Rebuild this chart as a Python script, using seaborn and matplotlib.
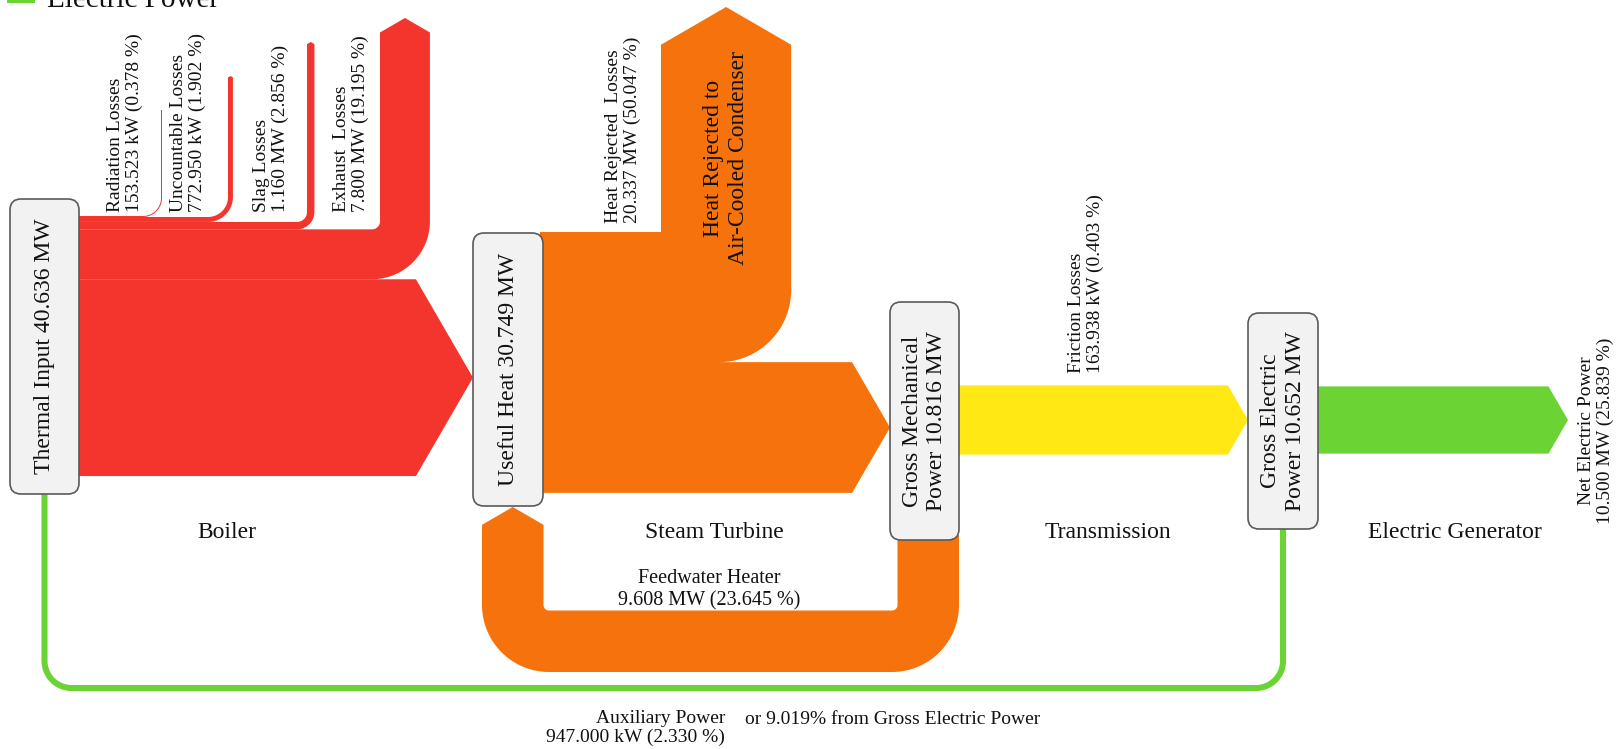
import numpy as np
import matplotlib.pyplot as plt
import matplotlib.patches as mpatches
import seaborn as sns

# ---- data (MW) ----
thermal_input = 40.636
useful_heat = 30.749
loss_names = ["Radiation Losses", "Uncountable Losses", "Slag Losses", "Exhaust  Losses"]
loss_values = [0.153523, 0.772950, 1.160, 7.800]
loss_texts = ["153.523 kW (0.378 %)", "772.950 kW (1.902 %)", "1.160 MW (2.856 %)", "7.800 MW (19.195 %)"]
heat_rejected = 20.337
heat_rejected_text = "20.337 MW (50.047 %)"
gross_mechanical = 10.816
feedwater = 9.608
feedwater_text = "9.608 MW (23.645 %)"
friction = 0.163938
friction_text = "163.938 kW (0.403 %)"
gross_electric = 10.652
auxiliary = 0.947
auxiliary_text = "947.000 kW (2.330 %)"
auxiliary_share = 9.019
net_electric = 10.500
net_electric_text = "10.500 MW (25.839 %)"
stages = ["Boiler", "Steam Turbine", "Transmission", "Electric Generator"]

# ---- style ----
RED, ORANGE, YELLOW, GREEN = "#f4352d", "#f6720c", "#ffe814", "#6bd334"
BOX_FC, BOX_EC = "#f2f2f2", "#5a5a5a"
PX = 6.4  # pixels per MW

sns.set_theme(style="white")
plt.rcParams['font.family'] = ['Liberation Serif', 'DejaVu Serif']

fig = plt.figure(figsize=(16.19, 7.49), dpi=100)
ax = fig.add_axes([0, 0, 1, 1])
ax.set_xlim(0, 1619)
ax.set_ylim(749, 0)
ax.axis('off')


def arc(cx, cy, r, a0, a1, n=30):
    t = np.radians(np.linspace(a0, a1, n))
    return list(zip(cx + r * np.cos(t), cy + r * np.sin(t)))


def up_branch(x0, top, w, xv, y_end, r_in, tip=True):
    # horizontal band leaving to the right, then turning upward
    h = 0.29 * w if tip else 0
    pts = [(x0, top)]
    pts += arc(xv - r_in, top - r_in, r_in, 90, 0)
    pts += [(xv, y_end + h), (xv + w / 2, y_end), (xv + w, y_end + h)]
    pts += arc(xv - r_in, top - r_in, r_in + w, 0, 90)
    pts += [(x0, top + w)]
    return pts


def h_arrow(x0, x_tip, top, w):
    sh = x_tip - 0.29 * w
    return [(x0, top), (sh, top), (x_tip, top + w / 2), (sh, top + w), (x0, top + w)]


def poly(pts, color, z=2):
    ax.add_patch(mpatches.Polygon(pts, closed=True, facecolor=color, edgecolor='none', zorder=z))


def node(x0, x1, y0, y1, label, fs=17):
    ax.add_patch(mpatches.FancyBboxPatch((x0, y0), x1 - x0, y1 - y0,
                                         boxstyle="round,pad=0,rounding_size=11",
                                         fc=BOX_FC, ec=BOX_EC, lw=1.2, zorder=5))
    ax.text((x0 + x1) / 2, (y0 + y1) / 2, label, rotation=90, ha='center', va='center',
            multialignment='center', fontsize=fs, color='#111111', zorder=6)


# ---- boiler (red) ----
red_top = 216
loss_x = [161, 228, 307, 380]
loss_end = [110, 76, 42, 18]
loss_r = [18, 20, 10, 8]
loss_tip = [False, True, True, True]
y = red_top
for v, xv, ye, r, tp in zip(loss_values, loss_x, loss_end, loss_r, loss_tip):
    w = v * PX
    poly(up_branch(79, y, w, xv, ye, r, tp), RED)
    y += w
poly(h_arrow(79, 473, y, useful_heat * PX), RED)

# ---- steam turbine (orange) ----
o_top = 232
hr_w = heat_rejected * PX
arr_w = (gross_mechanical + feedwater) * PX
hr_x = 661
hr_h = 0.29 * hr_w
a_top = o_top + hr_w
R = 72
pts = [(540, o_top), (hr_x, o_top), (hr_x, 7 + hr_h), (hr_x + hr_w / 2, 7), (hr_x + hr_w, 7 + hr_h)]
pts += arc(hr_x + hr_w - R, a_top - R, R, 0, 90)
sh = 890 - 0.29 * arr_w
pts += [(sh, a_top), (890, a_top + arr_w / 2), (sh, a_top + arr_w), (540, a_top + arr_w)]
poly(pts, ORANGE)

# feedwater loop back to useful heat
fw_w = feedwater * PX
xr_out = 959
xr = xr_out - fw_w
xl = 482
y_out = 672
y_in = y_out - fw_w
r_in = 5.5
fw_h = 0.29 * fw_w
pts = [(xr_out, 535)]
pts += arc(xr - r_in, y_in - r_in, r_in + fw_w, 0, 90)
pts += arc(xl + fw_w + r_in, y_in - r_in, r_in + fw_w, 90, 180)
pts += [(xl, 507 + fw_h), (xl + fw_w / 2, 507), (xl + fw_w, 507 + fw_h)]
pts += arc(xl + fw_w + r_in, y_in - r_in, r_in, 180, 90)
pts += arc(xr - r_in, y_in - r_in, r_in, 90, 0)
pts += [(xr, 535)]
poly(pts, ORANGE)

# ---- transmission (yellow) and generator (green) ----
yl_w = gross_mechanical * PX
poly(h_arrow(955, 1248, 420 - yl_w / 2, yl_w), YELLOW)
gr_w = net_electric * PX
poly(h_arrow(1314, 1568, 420 - gr_w / 2, gr_w), GREEN)

# auxiliary power line
aux = [(44.5, 494)] + arc(71.5, 661, 27, 180, 90) + arc(1256, 661, 27, 90, 0) + [(1283, 529)]
ax.plot([p[0] for p in aux], [p[1] for p in aux], color=GREEN,
        lw=auxiliary * PX * 72 / 100, solid_capstyle='butt', zorder=3)

# ---- nodes ----
node(10, 79, 199, 494, f"Thermal Input {thermal_input:.3f} MW")
node(473, 543, 233, 506, f"Useful Heat {useful_heat:.3f} MW")
node(890, 959, 302, 540, f"Gross Mechanical\nPower {gross_mechanical:.3f} MW")
node(1248, 1318, 313, 529, f"Gross Electric\nPower {gross_electric:.3f} MW")

# ---- labels ----
for name, txt, xc in zip(loss_names, loss_texts, [125, 188, 271, 351]):
    ax.text(xc, 212, f"{name}\n{txt}", rotation=90, ha='center', va='bottom',
            multialignment='left', fontsize=14, color='#111111')
ax.text(623, 223, f"Heat Rejected  Losses\n{heat_rejected_text}", rotation=90, ha='center',
        va='bottom', multialignment='left', fontsize=14, color='#111111')
ax.text(hr_x + hr_w / 2, 158, "Heat Rejected to\nAir-Cooled Condenser", rotation=90,
        ha='center', va='center', multialignment='center', fontsize=17, color='#111111', zorder=4)
ax.text(1086, 373, f"Friction Losses\n{friction_text}", rotation=90, ha='center', va='bottom',
        multialignment='left', fontsize=14, color='#111111')
ax.text(1596, 431, f"Net Electric Power\n{net_electric_text}", rotation=90, ha='center',
        va='center', multialignment='center', fontsize=14, color='#111111')

for name, xc in zip(stages, [227, 714, 1108, 1455]):
    ax.text(xc, 533, name, ha='center', va='center', fontsize=17, color='#111111')

ax.text(709, 590, f"Feedwater Heater\n{feedwater_text}", ha='center', va='center',
        multialignment='center', fontsize=14.5, color='#111111')
ax.text(725, 728, f"Auxiliary Power\n{auxiliary_text}", ha='right', va='center',
        multialignment='right', fontsize=14, color='#111111')
ax.text(745, 719, f"or {auxiliary_share:.3f}% from Gross Electric Power", ha='left',
        va='center', fontsize=14, color='#111111')

# legend fragment at the top edge
ax.add_patch(mpatches.Rectangle((7, -10), 28, 13, fc=GREEN, ec='none'))
ax.text(47, 7, "Electric Power", ha='left', va='baseline', fontsize=21, color='#111111')

fig.savefig("out.png", dpi=100)
